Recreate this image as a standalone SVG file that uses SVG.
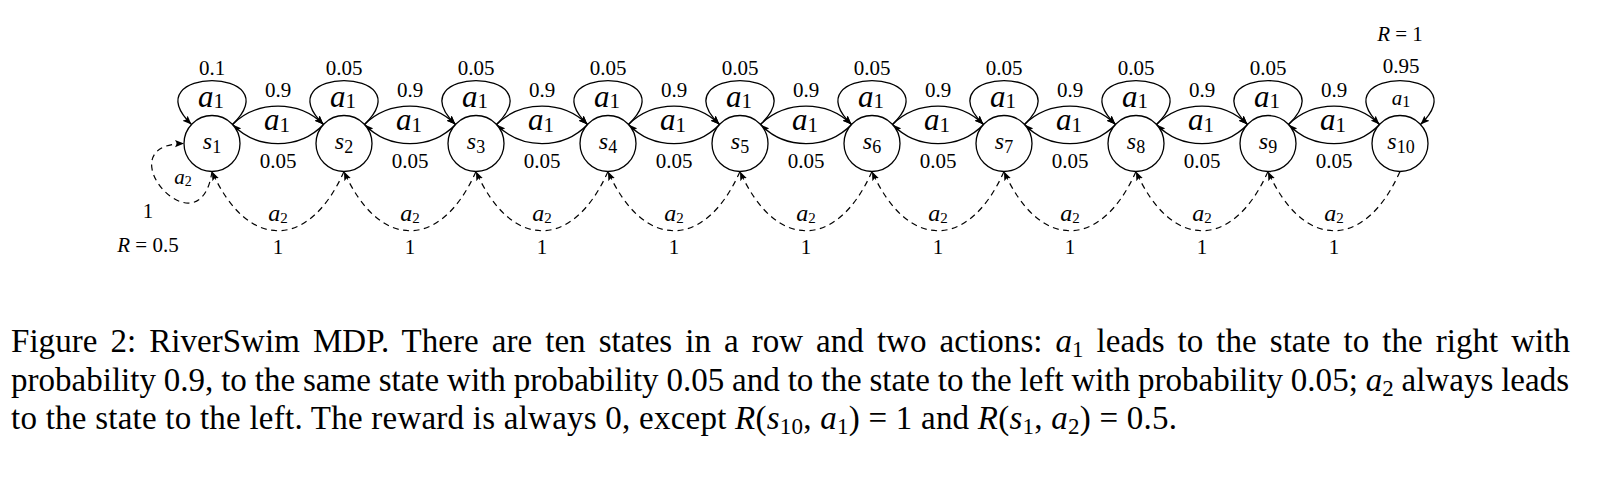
<svg xmlns="http://www.w3.org/2000/svg" width="1607" height="479" viewBox="0 0 1607 479">
<style>
text{font-family:"Liberation Serif","Times New Roman",serif;fill:#000}
.n{font-size:21px;text-anchor:middle}
.m{font-style:italic}
.node circle{fill:#fff;stroke:#000;stroke-width:1.3}
.lbl{font-size:24px;text-anchor:middle}
.e{fill:none;stroke:#000;stroke-width:1.3;marker-end:url(#ah)}
.d{fill:none;stroke:#000;stroke-width:1.2;stroke-dasharray:6 4.5;marker-end:url(#ah)}
.big{font-size:31px;text-anchor:middle}
.cap{font-size:33px}
</style>
<defs>
<marker id="ah" markerUnits="userSpaceOnUse" markerWidth="10" markerHeight="8" refX="9" refY="3.6" orient="auto" viewBox="0 0 10 7.2">
<path d="M0,0 L9,3.6 L0,7.2 L1.8,3.6 z" fill="#000"/>
</marker>
</defs>
<rect width="1607" height="479" fill="#fff"/>

<g id="connectors">
<path class="e" d="M232.5,124.5 C257,100 299,100 323.5,124.5"/>
<path class="e" d="M364.5,124.5 C389,100 431,100 455.5,124.5"/>
<path class="e" d="M496.5,124.5 C521,100 563,100 587.5,124.5"/>
<path class="e" d="M628.5,124.5 C653,100 695,100 719.5,124.5"/>
<path class="e" d="M760.5,124.5 C785,100 827,100 851.5,124.5"/>
<path class="e" d="M892.5,124.5 C917,100 959,100 983.5,124.5"/>
<path class="e" d="M1024.5,124.5 C1049,100 1091,100 1115.5,124.5"/>
<path class="e" d="M1156.5,124.5 C1181,100 1223,100 1247.5,124.5"/>
<path class="e" d="M1288.5,124.5 C1313,100 1355,100 1379.5,124.5"/>

<path class="e" d="M323.5,124.5 C299,150 257,150 232.5,124.5"/>
<path class="e" d="M455.5,124.5 C431,150 389,150 364.5,124.5"/>
<path class="e" d="M587.5,124.5 C563,150 521,150 496.5,124.5"/>
<path class="e" d="M719.5,124.5 C695,150 653,150 628.5,124.5"/>
<path class="e" d="M851.5,124.5 C827,150 785,150 760.5,124.5"/>
<path class="e" d="M983.5,124.5 C959,150 917,150 892.5,124.5"/>
<path class="e" d="M1115.5,124.5 C1091,150 1049,150 1024.5,124.5"/>
<path class="e" d="M1247.5,124.5 C1223,150 1181,150 1156.5,124.5"/>
<path class="e" d="M1379.5,124.5 C1355,150 1313,150 1288.5,124.5"/>

<path class="e" d="M232.5,124.5 C292,66 132,66 191.5,124.5"/>
<path class="e" d="M364.5,124.5 C424,66 264,66 323.5,124.5"/>
<path class="e" d="M496.5,124.5 C556,66 396,66 455.5,124.5"/>
<path class="e" d="M628.5,124.5 C688,66 528,66 587.5,124.5"/>
<path class="e" d="M760.5,124.5 C820,66 660,66 719.5,124.5"/>
<path class="e" d="M892.5,124.5 C952,66 792,66 851.5,124.5"/>
<path class="e" d="M1024.5,124.5 C1084,66 924,66 983.5,124.5"/>
<path class="e" d="M1156.5,124.5 C1216,66 1056,66 1115.5,124.5"/>
<path class="e" d="M1288.5,124.5 C1348,66 1188,66 1247.5,124.5"/>
<path class="e" d="M1379.5,124.5 C1320,66 1480,66 1420.5,124.5"/>

<path class="d" d="M344,171.5 C309,250.5 247,250.5 212,171.5"/>
<path class="d" d="M476,171.5 C441,250.5 379,250.5 344,171.5"/>
<path class="d" d="M608,171.5 C573,250.5 511,250.5 476,171.5"/>
<path class="d" d="M740,171.5 C705,250.5 643,250.5 608,171.5"/>
<path class="d" d="M872,171.5 C837,250.5 775,250.5 740,171.5"/>
<path class="d" d="M1004,171.5 C969,250.5 907,250.5 872,171.5"/>
<path class="d" d="M1136,171.5 C1101,250.5 1039,250.5 1004,171.5"/>
<path class="d" d="M1268,171.5 C1233,250.5 1171,250.5 1136,171.5"/>
<path class="d" d="M1400,171.5 C1365,250.5 1303,250.5 1268,171.5"/>
<path class="d" d="M212,171.5 C200,256 102,144 184,143.5"/>
</g>

<g id="labels">
<text class="n" x="212" y="74.5">0.1</text>
<text class="n" x="344" y="74.5">0.05</text>
<text class="n" x="476" y="74.5">0.05</text>
<text class="n" x="608" y="74.5">0.05</text>
<text class="n" x="740" y="74.5">0.05</text>
<text class="n" x="872" y="74.5">0.05</text>
<text class="n" x="1004" y="74.5">0.05</text>
<text class="n" x="1136" y="74.5">0.05</text>
<text class="n" x="1268" y="74.5">0.05</text>
<text class="n" x="1401" y="73">0.95</text>
<text class="n" x="1400" y="41"><tspan class="m">R</tspan> = 1</text>

<text class="big" x="211" y="107"><tspan class="m">a</tspan><tspan font-size="21" dy="1">1</tspan></text>
<text class="big" x="343" y="107"><tspan class="m">a</tspan><tspan font-size="21" dy="1">1</tspan></text>
<text class="big" x="475" y="107"><tspan class="m">a</tspan><tspan font-size="21" dy="1">1</tspan></text>
<text class="big" x="607" y="107"><tspan class="m">a</tspan><tspan font-size="21" dy="1">1</tspan></text>
<text class="big" x="739" y="107"><tspan class="m">a</tspan><tspan font-size="21" dy="1">1</tspan></text>
<text class="big" x="871" y="107"><tspan class="m">a</tspan><tspan font-size="21" dy="1">1</tspan></text>
<text class="big" x="1003" y="107"><tspan class="m">a</tspan><tspan font-size="21" dy="1">1</tspan></text>
<text class="big" x="1135" y="107"><tspan class="m">a</tspan><tspan font-size="21" dy="1">1</tspan></text>
<text class="big" x="1267" y="107"><tspan class="m">a</tspan><tspan font-size="21" dy="1">1</tspan></text>
<text class="n" x="1401" y="105" font-size="22"><tspan class="m">a</tspan><tspan font-size="16" dy="2">1</tspan></text>

<text class="n" x="278" y="96.5">0.9</text>
<text class="n" x="410" y="96.5">0.9</text>
<text class="n" x="542" y="96.5">0.9</text>
<text class="n" x="674" y="96.5">0.9</text>
<text class="n" x="806" y="96.5">0.9</text>
<text class="n" x="938" y="96.5">0.9</text>
<text class="n" x="1070" y="96.5">0.9</text>
<text class="n" x="1202" y="96.5">0.9</text>
<text class="n" x="1334" y="96.5">0.9</text>

<text class="big" x="277" y="130"><tspan class="m">a</tspan><tspan font-size="21" dy="1.5">1</tspan></text>
<text class="big" x="409" y="130"><tspan class="m">a</tspan><tspan font-size="21" dy="1.5">1</tspan></text>
<text class="big" x="541" y="130"><tspan class="m">a</tspan><tspan font-size="21" dy="1.5">1</tspan></text>
<text class="big" x="673" y="130"><tspan class="m">a</tspan><tspan font-size="21" dy="1.5">1</tspan></text>
<text class="big" x="805" y="130"><tspan class="m">a</tspan><tspan font-size="21" dy="1.5">1</tspan></text>
<text class="big" x="937" y="130"><tspan class="m">a</tspan><tspan font-size="21" dy="1.5">1</tspan></text>
<text class="big" x="1069" y="130"><tspan class="m">a</tspan><tspan font-size="21" dy="1.5">1</tspan></text>
<text class="big" x="1201" y="130"><tspan class="m">a</tspan><tspan font-size="21" dy="1.5">1</tspan></text>
<text class="big" x="1333" y="130"><tspan class="m">a</tspan><tspan font-size="21" dy="1.5">1</tspan></text>

<text class="n" x="278" y="168">0.05</text>
<text class="n" x="410" y="168">0.05</text>
<text class="n" x="542" y="168">0.05</text>
<text class="n" x="674" y="168">0.05</text>
<text class="n" x="806" y="168">0.05</text>
<text class="n" x="938" y="168">0.05</text>
<text class="n" x="1070" y="168">0.05</text>
<text class="n" x="1202" y="168">0.05</text>
<text class="n" x="1334" y="168">0.05</text>

<text class="lbl" x="278" y="220.5"><tspan class="m">a</tspan><tspan font-size="15" dy="2">2</tspan></text>
<text class="lbl" x="410" y="220.5"><tspan class="m">a</tspan><tspan font-size="15" dy="2">2</tspan></text>
<text class="lbl" x="542" y="220.5"><tspan class="m">a</tspan><tspan font-size="15" dy="2">2</tspan></text>
<text class="lbl" x="674" y="220.5"><tspan class="m">a</tspan><tspan font-size="15" dy="2">2</tspan></text>
<text class="lbl" x="806" y="220.5"><tspan class="m">a</tspan><tspan font-size="15" dy="2">2</tspan></text>
<text class="lbl" x="938" y="220.5"><tspan class="m">a</tspan><tspan font-size="15" dy="2">2</tspan></text>
<text class="lbl" x="1070" y="220.5"><tspan class="m">a</tspan><tspan font-size="15" dy="2">2</tspan></text>
<text class="lbl" x="1202" y="220.5"><tspan class="m">a</tspan><tspan font-size="15" dy="2">2</tspan></text>
<text class="lbl" x="1334" y="220.5"><tspan class="m">a</tspan><tspan font-size="15" dy="2">2</tspan></text>

<text class="n" x="278" y="254">1</text>
<text class="n" x="410" y="254">1</text>
<text class="n" x="542" y="254">1</text>
<text class="n" x="674" y="254">1</text>
<text class="n" x="806" y="254">1</text>
<text class="n" x="938" y="254">1</text>
<text class="n" x="1070" y="254">1</text>
<text class="n" x="1202" y="254">1</text>
<text class="n" x="1334" y="254">1</text>

<text class="n" x="183" y="183.5" font-size="19"><tspan class="m">a</tspan><tspan font-size="14" dy="2.5">2</tspan></text>
<text class="n" x="148" y="218">1</text>
<text class="n" x="148" y="251.5"><tspan class="m">R</tspan> = 0.5</text>
</g>

<g id="s1" class="node"><circle cx="212" cy="143.5" r="28"/><text class="lbl" x="212" y="148.5"><tspan class="m">s</tspan><tspan font-size="18" dy="4">1</tspan></text></g>
<g id="s2" class="node"><circle cx="344" cy="143.5" r="28"/><text class="lbl" x="344" y="148.5"><tspan class="m">s</tspan><tspan font-size="18" dy="4">2</tspan></text></g>
<g id="s3" class="node"><circle cx="476" cy="143.5" r="28"/><text class="lbl" x="476" y="148.5"><tspan class="m">s</tspan><tspan font-size="18" dy="4">3</tspan></text></g>
<g id="s4" class="node"><circle cx="608" cy="143.5" r="28"/><text class="lbl" x="608" y="148.5"><tspan class="m">s</tspan><tspan font-size="18" dy="4">4</tspan></text></g>
<g id="s5" class="node"><circle cx="740" cy="143.5" r="28"/><text class="lbl" x="740" y="148.5"><tspan class="m">s</tspan><tspan font-size="18" dy="4">5</tspan></text></g>
<g id="s6" class="node"><circle cx="872" cy="143.5" r="28"/><text class="lbl" x="872" y="148.5"><tspan class="m">s</tspan><tspan font-size="18" dy="4">6</tspan></text></g>
<g id="s7" class="node"><circle cx="1004" cy="143.5" r="28"/><text class="lbl" x="1004" y="148.5"><tspan class="m">s</tspan><tspan font-size="18" dy="4">7</tspan></text></g>
<g id="s8" class="node"><circle cx="1136" cy="143.5" r="28"/><text class="lbl" x="1136" y="148.5"><tspan class="m">s</tspan><tspan font-size="18" dy="4">8</tspan></text></g>
<g id="s9" class="node"><circle cx="1268" cy="143.5" r="28"/><text class="lbl" x="1268" y="148.5"><tspan class="m">s</tspan><tspan font-size="18" dy="4">9</tspan></text></g>
<g id="s10" class="node"><circle cx="1400" cy="143.5" r="28"/><text class="lbl" x="1401" y="148.5"><tspan class="m">s</tspan><tspan font-size="18" dy="4">10</tspan></text></g>

<g id="caption">
<text class="cap" x="11" y="351.5" word-spacing="4.7" textLength="1559" lengthAdjust="spacing">Figure 2: RiverSwim MDP. There are ten states in a row and two actions: <tspan class="m">a</tspan><tspan font-size="23" dy="5">1</tspan><tspan dy="-5"> leads to the state to the right with</tspan></text>
<text class="cap" x="11" y="390.5" word-spacing="-0.4" textLength="1558" lengthAdjust="spacing">probability 0.9, to the same state with probability 0.05 and to the state to the left with probability 0.05; <tspan class="m">a</tspan><tspan font-size="23" dy="5">2</tspan><tspan dy="-5"> always leads</tspan></text>
<text class="cap" x="11" y="429" textLength="1166" lengthAdjust="spacing">to the state to the left. The reward is always 0, except <tspan class="m">R</tspan>(<tspan class="m">s</tspan><tspan font-size="23" dy="5">10</tspan><tspan dy="-5">, </tspan><tspan class="m">a</tspan><tspan font-size="23" dy="5">1</tspan><tspan dy="-5">) = 1 and </tspan><tspan class="m">R</tspan>(<tspan class="m">s</tspan><tspan font-size="23" dy="5">1</tspan><tspan dy="-5">, </tspan><tspan class="m">a</tspan><tspan font-size="23" dy="5">2</tspan><tspan dy="-5">) = 0.5.</tspan></text>
</g>
</svg>
